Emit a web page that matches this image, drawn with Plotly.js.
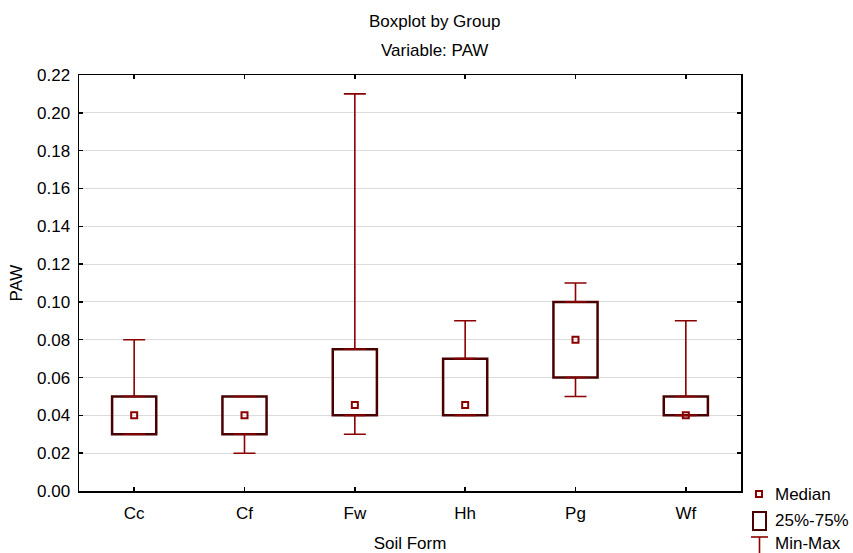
<!DOCTYPE html>
<html>
<head>
<meta charset="utf-8">
<script src="https://cdn.plot.ly/plotly-3.0.1.min.js"></script>
<style>html,body{margin:0;padding:0;background:#fff;}#chart{width:853px;height:553px;}</style>
</head>
<body>
<div id="chart"></div>
<script>
const categories = ["Cc", "Cf", "Fw", "Hh", "Pg", "Wf"];
const minVals    = [0.030, 0.020, 0.030, 0.040, 0.050, 0.040];
const q1Vals     = [0.030, 0.030, 0.040, 0.040, 0.060, 0.040];
const medianVals = [0.040, 0.040, 0.0455, 0.0455, 0.080, 0.040];
const q3Vals     = [0.050, 0.050, 0.075, 0.070, 0.100, 0.050];
const maxVals    = [0.080, 0.050, 0.210, 0.090, 0.110, 0.090];
const yTicks = [0, 0.02, 0.04, 0.06, 0.08, 0.10, 0.12, 0.14, 0.16, 0.18, 0.20, 0.22];

const whiskerColor = "#8b0000";
const boxColor = "#4a0000";
const zeros = categories.map(() => 0);

const upper = {
  type: "scatter", mode: "markers", x: categories, y: q3Vals,
  marker: {size: 1, opacity: 0}, showlegend: false, hoverinfo: "skip",
  error_y: {type: "data", symmetric: false,
    array: maxVals.map((v, i) => v - q3Vals[i]), arrayminus: zeros,
    color: whiskerColor, thickness: 1.6, width: 11}
};
const lower = {
  type: "scatter", mode: "markers", x: categories, y: q1Vals,
  marker: {size: 1, opacity: 0}, showlegend: false, hoverinfo: "skip",
  error_y: {type: "data", symmetric: false,
    array: zeros, arrayminus: q1Vals.map((v, i) => v - minVals[i]),
    color: whiskerColor, thickness: 1.6, width: 11}
};
const boxes = {
  type: "bar", x: categories, base: q1Vals,
  y: q3Vals.map((v, i) => v - q1Vals[i]), width: 0.4,
  marker: {color: "rgba(255,255,255,0)", line: {color: boxColor, width: 2.5}},
  showlegend: false, hoverinfo: "skip"
};
const medians = {
  type: "scatter", mode: "markers", x: categories, y: medianVals,
  marker: {symbol: "square-open", size: 6, color: whiskerColor, line: {width: 2, color: whiskerColor}},
  showlegend: false, hoverinfo: "skip"
};

// plot area in pixels: left 79, right 741, top 75, bottom 491
const L = 79, R = 741, T = 75, B = 491;
const px = x => (x - L) / (R - L);
const py = y => (B - y) / (B - T);
const font = "Liberation Sans, Arial, sans-serif";
const fs = 17;

const layout = {
  width: 853, height: 553,
  margin: {l: L, r: 853 - R, t: T, b: 553 - B},
  paper_bgcolor: "#fff", plot_bgcolor: "#fff",
  font: {family: font, size: fs, color: "#000"},
  showlegend: false,
  xaxis: {
    type: "category", categoryarray: categories, range: [-0.5, 5.5],
    showline: true, linecolor: "#000", linewidth: 1.5, mirror: "ticks",
    ticks: "inside", ticklen: 4, tickwidth: 1.5, tickcolor: "#000",
    showgrid: false, zeroline: false,
    tickfont: {family: font, size: fs}, ticklabelstandoff: 6,
    title: {text: "Soil Form", font: {family: font, size: fs}, standoff: 16}
  },
  yaxis: {
    range: [0, 0.22], tickvals: yTicks, tickformat: ".2f",
    showline: true, linecolor: "#000", linewidth: 1.5, mirror: "ticks",
    ticks: "inside", ticklen: 4, tickwidth: 1.5, tickcolor: "#000",
    showgrid: true, gridcolor: "#dcdcdc", gridwidth: 1, zeroline: false,
    tickfont: {family: font, size: fs}, ticklabelstandoff: 4,
    title: {text: "PAW", font: {family: font, size: fs}, standoff: 10}
  },
  annotations: [
    {text: "Boxplot by Group", xref: "paper", yref: "paper", x: px(434), y: py(21), showarrow: false, font: {family: font, size: fs}, xanchor: "center", yanchor: "middle"},
    {text: "Variable: PAW", xref: "paper", yref: "paper", x: px(434), y: py(51), showarrow: false, font: {family: font, size: fs}, xanchor: "center", yanchor: "middle"},
    {text: "Median", xref: "paper", yref: "paper", x: px(774), y: py(494), showarrow: false, font: {family: font, size: fs}, xanchor: "left", yanchor: "middle", borderpad: 0},
    {text: "25%-75%", xref: "paper", yref: "paper", x: px(774), y: py(520), showarrow: false, font: {family: font, size: fs}, xanchor: "left", yanchor: "middle", borderpad: 0},
    {text: "Min-Max", xref: "paper", yref: "paper", x: px(774), y: py(543), showarrow: false, font: {family: font, size: fs}, xanchor: "left", yanchor: "middle", borderpad: 0}
  ],
  shapes: [
    {type: "rect", xref: "paper", yref: "paper", x0: px(756), x1: px(762), y0: py(491), y1: py(497), line: {color: whiskerColor, width: 2}},
    {type: "rect", xref: "paper", yref: "paper", x0: px(753), x1: px(766), y0: py(512), y1: py(530), line: {color: boxColor, width: 2}},
    {type: "line", xref: "paper", yref: "paper", x0: px(751), x1: px(768), y0: py(537), y1: py(537), line: {color: whiskerColor, width: 1.6}},
    {type: "line", xref: "paper", yref: "paper", x0: px(759.5), x1: px(759.5), y0: py(537), y1: py(553), line: {color: whiskerColor, width: 1.6}}
  ]
};

Plotly.newPlot("chart", [upper, lower, boxes, medians], layout, {displayModeBar: false, staticPlot: true});
</script>
</body>
</html>
